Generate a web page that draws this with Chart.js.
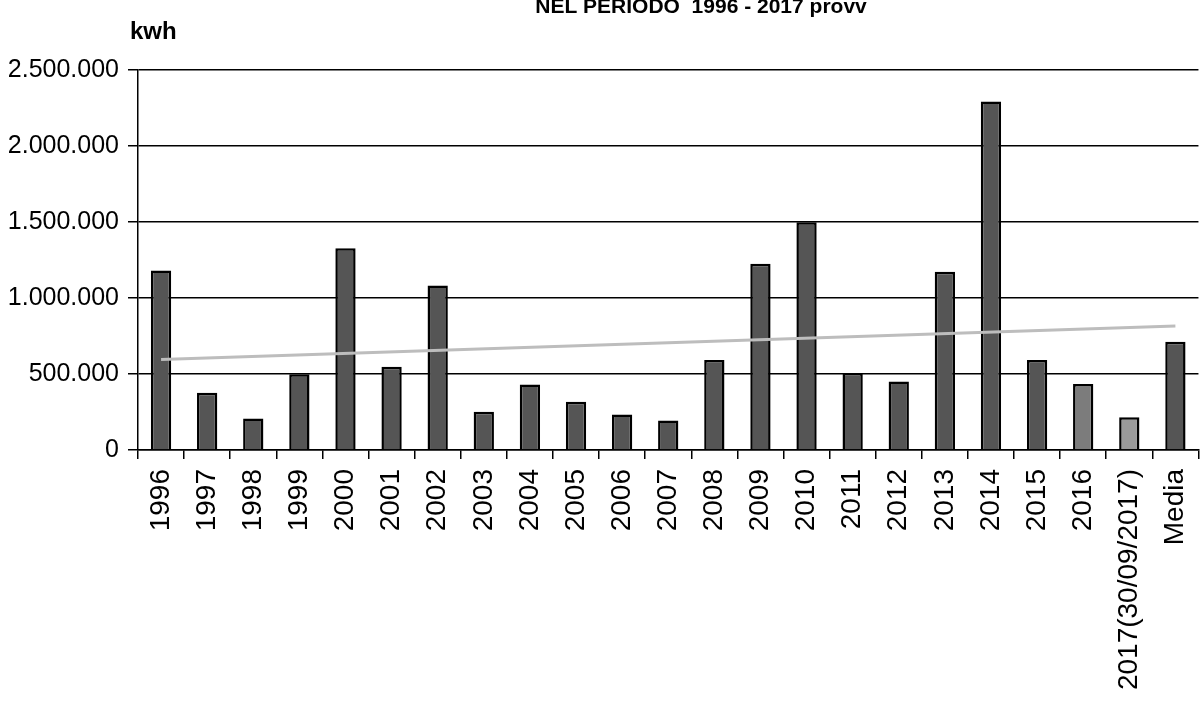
<!DOCTYPE html>
<html>
<head>
<meta charset="utf-8">
<script src="https://cdn.jsdelivr.net/npm/chart.js@4"></script>
<style>
    html, body { margin: 0; padding: 0; background: #fff; overflow: hidden; }
    #wrap { width: 1200px; height: 705px; position: relative; overflow: hidden; }
</style>
</head>
<body>
<div id="wrap"><canvas id="kwhChart" width="1219" height="705"></canvas></div>
<script>
const anni = ["1996", "1997", "1998", "1999", "2000", "2001", "2002", "2003", "2004", "2005",
    "2006", "2007", "2008", "2009", "2010", "2011", "2012", "2013", "2014", "2015", "2016",
    "2017(30/09/2017)", "Media"];

const kwh = [1181000, 376000, 208000, 499000, 1327000, 547000, 1083000, 251000, 431000, 317000,
    234000, 194000, 592000, 1226000, 1499000, 507000, 450000, 1173000, 2293000, 592000, 434000,
    215000, 712000];

// linea di tendenza: solo inizio e fine
const tendenza = [595000, null, null, null, null, null, null, null, null, null, null, null,
    null, null, null, null, null, null, null, null, null, null, 815000];

const yTicks = [0, 500000, 1000000, 1500000, 2000000, 2500000];

const coloriBarre = kwh.map((v, i) => {
    if (anni[i] === "2016") return "#7c7c7c";
    if (anni[i].startsWith("2017")) return "#9a9a9a";
    return "#555555";
});

function puntini(n) {
    return String(n).replace(/\B(?=(\d{3})+(?!\d))/g, ".");
}

const testiExtra = {
    id: "testiExtra",
    afterDraw(chart) {
        const ctx = chart.ctx;
        ctx.save();
        ctx.fillStyle = "#000";
        ctx.textBaseline = "alphabetic";
        ctx.font = "bold 21px 'Liberation Sans', Arial, sans-serif";
        ctx.textAlign = "center";
        ctx.fillText("NEL PERIODO  1996 - 2017 provv", 701, 13);
        ctx.font = "bold 24px 'Liberation Sans', Arial, sans-serif";
        ctx.textAlign = "left";
        ctx.fillText("kwh", 130, 39);
        ctx.restore();
    }
};

const ctx = document.getElementById("kwhChart").getContext("2d");
new Chart(ctx, {
    type: "bar",
    data: {
        labels: anni,
        datasets: [{
            type: "line",
            label: "Tendenza",
            data: tendenza,
            spanGaps: true,
            borderColor: "#bdbdbd",
            borderWidth: 3,
            pointRadius: 0,
            order: 0
        }, {
            label: "kwh",
            data: kwh,
            backgroundColor: coloriBarre,
            borderColor: "#000",
            borderWidth: 2.5,
            categoryPercentage: 1,
            barPercentage: 0.44,
            order: 1
        }]
    },
    options: {
        responsive: false,
        animation: false,
        layout: { padding: { top: 70, left: 0, right: 0, bottom: 0 } },
        plugins: {
            legend: { display: false },
            tooltip: { enabled: false },
            title: { display: false }
        },
        scales: {
            x: {
                afterFit: s => { s.height = 255; },
                grid: {
                    drawOnChartArea: false,
                    drawTicks: true,
                    tickLength: 9,
                    color: "#000",
                    lineWidth: 1.5
                },
                border: { color: "#000", width: 1.5 },
                ticks: {
                    autoSkip: false,
                    maxRotation: 90,
                    minRotation: 90,
                    padding: 10,
                    color: "#000",
                    font: { family: "'Liberation Sans', Arial, sans-serif", size: 28 }
                }
            },
            y: {
                min: 0,
                max: 2500000,
                afterFit: s => { s.width = 138; },
                afterBuildTicks: s => { s.ticks = yTicks.map(v => ({ value: v })); },
                grid: {
                    color: "#000",
                    lineWidth: 1.5,
                    tickLength: 10
                },
                border: { color: "#000", width: 1.5 },
                ticks: {
                    padding: 9,
                    color: "#000",
                    font: { family: "'Liberation Sans', Arial, sans-serif", size: 25 },
                    callback: v => puntini(v)
                }
            }
        }
    },
    plugins: [testiExtra]
});
</script>
</body>
</html>
